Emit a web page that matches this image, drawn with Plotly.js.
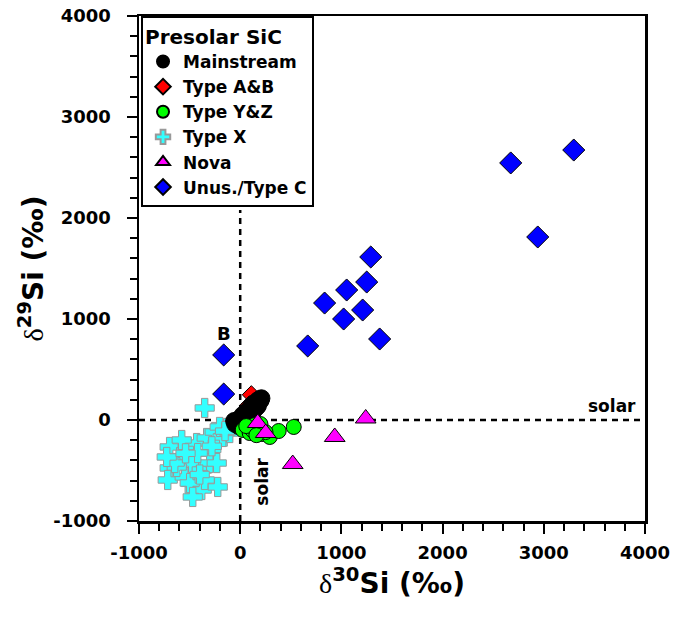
<!DOCTYPE html>
<html>
<head>
<meta charset="utf-8">
<script src="https://cdn.plot.ly/plotly-3.0.1.min.js"></script>
<style>html,body{margin:0;padding:0;background:#fff;}#chart{width:676px;height:623px;}</style>
</head>
<body>
<div id="chart"></div>
<script>
// Mainstream grains
const ms30 = [-50,-40,-30,-20,-10,0,10,15,20,25,30,35,40,50,55,60,65,70,75,80,90,95,100,105,110,115,120,130,135,140,145,150,155,160,170,175,180,185,190,200,210,-25,5,45,85,125,165,-60,-15];
const ms29 = [-40,-30,-5,-20,10,-20,20,-25,5,50,40,0,25,60,20,45,85,80,40,65,100,55,90,130,120,70,110,150,100,130,165,170,120,150,190,140,175,200,205,190,215,-45,-35,-10,30,80,130,-10,-60];
// Type A&B
const ab30 = [110,60,90,20,150,40];
const ab29 = [250,100,150,30,160,70];
// Type Y&Z
const yz30 = [25,94,143,212,292,380,529,180,120,60,250,200,160];
const yz29 = [-99,-129,-50,-139,-168,-109,-69,-90,-100,-60,-120,-40,-150];
// Type X
const tx30 = [-351,-697,-697,-716,-598,-519,-479,-430,-380,-331,-301,-252,-222,-450,-380,-222,-301,-548,-627,-173,-133,-203,-499,-351,-578,-420,-104,-232,-469,-647,-726,-60,-90,-150,-280,-540,-400];
const tx29 = [119,-267,-475,-594,-366,-267,-426,-228,-495,-178,-327,-119,-228,-693,-693,-663,-426,-564,-465,-168,-79,-69,-624,-594,-198,-327,-129,-426,-762,-426,-366,-40,-60,-110,-260,-330,-540];
// Nova grains
const nv30 = [1240,934,519,173,252];
const nv29 = [15,-168,-436,-30,-129];
// Unusual / Type C
const uc30 = [3296,2940,2673,1290,1250,1210,1052,834,1022,1378,667,-163,-163];
const uc29 = [2673,1812,2545,1614,1366,1089,1287,1158,1000,802,733,644,257];

// Tick labels
const tickVals = [-1000,0,1000,2000,3000,4000];
const tickText = ['-1000','0','1000','2000','3000','4000'];

const traceNames = ['Mainstream','Type A&B','Type Y&Z','Type X','Nova','Unus./Type C'];

const FAM = 'DejaVu Sans, Liberation Sans, Arial, sans-serif';

const base = {type:'scatter', mode:'markers', hoverinfo:'skip'};
const data = [
  Object.assign({}, base, {name:traceNames[3], legendrank:4, x:tx30, y:tx29,
    marker:{symbol:'cross', size:16, color:'#33ffff', line:{color:'#999999', width:1}}}),
  Object.assign({}, base, {name:traceNames[1], legendrank:2, x:ab30, y:ab29,
    marker:{symbol:'diamond', size:14, color:'#ff0000', line:{color:'#000', width:1}}}),
  Object.assign({}, base, {name:traceNames[0], legendrank:1, x:ms30, y:ms29,
    marker:{symbol:'circle', size:17, color:'#000000', line:{color:'#000', width:1}}}),
  Object.assign({}, base, {name:traceNames[2], legendrank:3, x:yz30, y:yz29,
    marker:{symbol:'circle', size:15, color:'#00ff00', line:{color:'#000', width:1}}}),
  Object.assign({}, base, {name:traceNames[4], legendrank:5, x:nv30, y:nv29,
    marker:{symbol:'triangle-up', size:18, color:'#ff00ff', line:{color:'#000', width:1}}}),
  Object.assign({}, base, {name:traceNames[5], legendrank:6, x:uc30, y:uc29,
    marker:{symbol:'diamond', size:17, color:'#0000ff', line:{color:'#000', width:1}}})
];

const tickFont = {family:FAM, size:18, color:'#000', weight:'bold'};

const axisCommon = {
  showgrid:false, zeroline:false, showline:true, linecolor:'#000', linewidth:2.5,
  mirror:true, ticks:'outside', ticklen:10, tickwidth:2, tickcolor:'#000',
  tickmode:'array', tickvals:tickVals, ticktext:tickText, tickfont:tickFont,
  minor:{ticks:'outside', ticklen:7, tickwidth:2, tickcolor:'#000', tickmode:'linear', tick0:0, dtick:200, showgrid:false}
};

const titleFont = {family:FAM, size:28, weight:'bold', color:'#000'};

const layout = {
  width:676, height:623,
  margin:{l:139, r:31, t:16, b:102},
  paper_bgcolor:'#fff', plot_bgcolor:'#fff',
  showlegend:true,
  xaxis: Object.assign({}, axisCommon, {
    range:[-1000,4000], ticklabelstandoff:4,
    title:{text:'<span style="font-family:Liberation Serif;font-weight:normal">δ</span><sup>30</sup>Si (‰)', font:titleFont, standoff:4}
  }),
  yaxis: Object.assign({}, axisCommon, {
    range:[-1000,4000], ticklabelstandoff:12,
    title:{text:'<span style="font-family:Liberation Serif;font-weight:normal">δ</span><sup>29</sup>Si (‰)', font:titleFont, standoff:2}
  }),
  legend:{
    x:0.004, y:1, xanchor:'left', yanchor:'top',
    bgcolor:'#fff', bordercolor:'#000', borderwidth:2,
    font:{family:FAM, size:17, weight:'bold', color:'#000'},
    title:{text:'Presolar SiC', font:{family:FAM, size:20, weight:'bold', color:'#000'}},
    traceorder:'normal', itemsizing:'constant', tracegroupgap:0, itemwidth:30
  },
  shapes:[
    {type:'line', xref:'x', yref:'y', x0:-1000, x1:4000, y0:0, y1:0, line:{color:'#000', width:2.5, dash:'6px,5px'}, layer:'below'},
    {type:'line', xref:'x', yref:'y', x0:0, x1:0, y0:-1000, y1:2080, line:{color:'#000', width:2.5, dash:'6px,5px'}, layer:'below'}
  ],
  annotations:[
    {x:-163, y:860, xref:'x', yref:'y', text:'B', showarrow:false, font:{family:FAM, size:18, weight:'bold', color:'#000'}},
    {x:3670, y:139, xref:'x', yref:'y', text:'solar', showarrow:false, font:{family:FAM, size:17, weight:'bold', color:'#000'}},
    {x:212, y:-614, xref:'x', yref:'y', text:'solar', textangle:-90, showarrow:false, font:{family:FAM, size:17, weight:'bold', color:'#000'}}
  ]
};

Plotly.newPlot('chart', data, layout, {staticPlot:true, displayModeBar:false});
</script>
</body>
</html>
